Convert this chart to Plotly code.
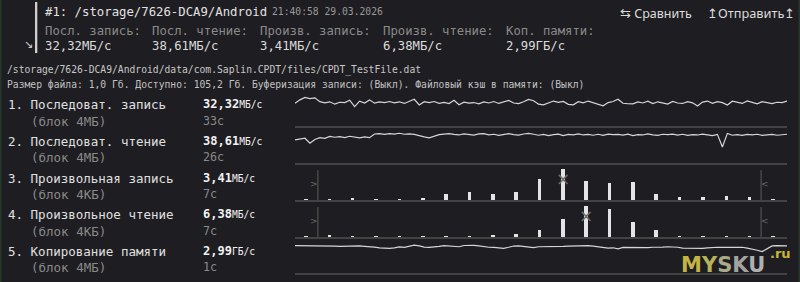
import plotly.graph_objects as go

W, H = 800, 282
BG = '#1e1d21'
MONO = 'DejaVu Sans Mono'
SANS = 'Noto Sans'

# ---------------- data ----------------
header_title = "#1: /storage/7626-DCA9/Android"
header_date = "21:40:58 29.03.2026"
summary_labels = ["Посл. запись:", "Посл. чтение:", "Произв. запись:", "Произв. чтение:", "Коп. памяти:"]
summary_values = ["32,32МБ/с", "38,61МБ/с", "3,41МБ/с", "6,38МБ/с", "2,99ГБ/с"]
file_path = "/storage/7626-DCA9/Android/data/com.Saplin.CPDT/files/CPDT_TestFile.dat"
file_info = "Размер файла: 1,0 Гб. Доступно: 105,2 Гб. Буферизация записи: (Выкл). Файловый кэш в памяти: (Выкл)"

test_names = ["1. Последоват. запись", "2. Последоват. чтение", "3. Произвольная запись",
              "4. Произвольное чтение", "5. Копирование памяти"]
block_sizes = ["(блок 4МБ)", "(блок 4МБ)", "(блок 4КБ)", "(блок 4КБ)", "(блок 4МБ)"]
speed_numbers = ["32,32", "38,61", "3,41", "6,38", "2,99"]
speed_units = ["МБ/с", "МБ/с", "МБ/с", "МБ/с", "ГБ/с"]
durations = ["33с", "26с", "7с", "7с", "1с"]

# sequential write, MB/s over time
seq_write = [30.6, 35.2, 38.4, 36.8, 38.0, 32.8, 31.2, 32.6, 29.4, 32.0,
             31.6, 34.8, 26.2, 33.4, 31.0, 35.2, 30.8, 32.4, 31.6, 33.0,
             31.2, 32.6, 30.4, 33.2, 36.0, 28.4, 32.8, 31.4, 33.0, 30.6,
             31.8, 30.2, 34.6, 28.6, 32.2, 30.8, 31.6, 29.8, 32.4, 31.0,
             33.0, 30.4, 32.2, 34.4, 31.0, 30.2, 32.6, 35.8, 34.0, 29.4,
             28.6, 30.8, 33.6, 31.8, 33.2, 29.2, 28.6, 32.8, 31.2, 33.6,
             31.4, 28.4, 27.2, 31.6, 33.0, 36.0, 30.6, 30.0, 29.8, 32.4,
             31.0, 33.4, 30.2, 32.6, 31.6, 29.6, 33.2, 31.0, 30.4, 32.8,
             31.2, 27.0, 32.2, 33.6, 30.6, 32.8, 31.4, 28.2, 33.4, 32.0,
             30.4, 33.8, 31.6, 29.8, 32.8, 31.2, 30.2, 32.0, 31.6, 33.6]

# sequential read, MB/s over time
seq_read = [32.4, 33.2, 34.8, 27.8, 33.0, 35.6, 34.6, 37.4, 36.2, 37.0,
            35.8, 37.6, 36.4, 35.2, 36.8, 35.6, 40.8, 41.2, 40.2, 41.4,
            40.6, 41.8, 40.4, 41.0, 40.2, 38.2, 36.8, 35.4, 37.6, 39.8,
            40.6, 41.4, 40.2, 39.4, 41.0, 40.4, 39.2, 40.8, 41.2, 39.6,
            40.4, 38.8, 40.6, 41.4, 40.0, 39.2, 40.8, 41.6, 40.4, 39.0,
            40.2, 38.6, 39.8, 40.6, 38.4, 40.2, 39.6, 40.8, 39.4, 40.2,
            39.0, 40.4, 38.8, 40.6, 39.8, 40.2, 39.2, 40.6, 38.6, 40.0,
            39.4, 40.8, 39.6, 38.8, 40.4, 39.8, 40.6, 39.2, 40.4, 38.8,
            40.0, 39.4, 40.6, 39.8, 38.6, 40.2, 22.6, 41.6, 39.0, 39.8,
            38.8, 40.2, 39.6, 40.4, 38.8, 39.6, 40.2, 39.0, 39.8, 40.4]

# memory copy, GB/s over time
mem_copy = [3.14, 3.14, 3.14, 3.15, 3.14, 3.14, 3.12, 3.08, 3.10, 3.06,
            3.09, 3.05, 3.08, 3.11, 3.06, 3.04, 2.98, 2.90, 2.85, 2.84,
            2.88, 3.00, 2.94, 3.06, 3.20, 3.12, 2.98, 2.94, 2.96, 3.06,
            3.14, 3.12, 3.04, 3.02, 3.16, 3.20, 3.18, 3.12, 3.00, 2.96,
            2.94, 2.88, 2.84, 2.96, 3.10, 3.12, 3.08, 2.98, 2.92, 3.02,
            3.02, 3.00, 3.04, 3.08, 3.06, 3.10, 3.12, 3.14, 3.13, 3.14,
            3.10, 3.02, 2.92, 2.86, 2.90, 2.78, 2.94, 2.92, 2.96, 2.90,
            2.94, 2.92, 2.96, 2.94, 2.98, 3.02, 3.00, 2.96, 2.86, 2.84,
            2.84, 2.86, 2.84, 2.88, 2.94, 2.96, 2.94, 2.98, 2.96, 2.94,
            2.96, 2.86, 2.76, 2.62, 2.46, 2.80, 3.12, 3.14, 3.12, 3.13]

# random write / read latency histograms, % of operations per bin
rand_write_hist = [0.6, 0.4, 0.8, 0.4, 0.4, 0.8, 3.9, 5.2, 3.6, 5.2, 12.9,
                   19.2, 11.9, 10.8, 11.3, 3.8, 1.9, 1.9, 2.5, 1.7, 0.6]
rand_read_hist = [0.6, 1.4, 0.4, 0.4, 0.4, 0.4, 0.6, 0.8, 1.9, 2.5, 5.8,
                  14.9, 25.6, 23.1, 12.4, 5.8, 0.8, 0.6, 0.6, 0.6, 0.6]
rand_write_minmax_bin = [0.51, 19.49]
rand_read_minmax_bin = [0.51, 19.49]
rand_write_avg_bin = 11
rand_read_avg_bin = 12

# ---------------- layout helpers ----------------
def px(x):
    return x / W

def py(y):
    return 1 - y / H

ann = []

def text(x, y, s, size, color, family=MONO, anchor='left'):
    ann.append(dict(x=px(x), y=py(y), xref='paper', yref='paper', text=s, showarrow=False,
                    xanchor=anchor, yanchor='middle', borderpad=0, borderwidth=0,
                    font=dict(family=family, size=size, color=color)))

GREY = '#8a8a8a'
LINE = '#d6d6d6'

# header
text(45, 12, header_title, 12.3, '#e2e2e2')
text(272, 11, header_date, 9.7, '#9a9a9a')
text(620, 13, "⇆ Сравнить", 12.5, '#dcdcdc', family=SANS)
text(707, 13, "↥Отправить↥", 12.8, '#dcdcdc', family=SANS)
text(24, 44, "↘", 11, '#cfcfcf', family='DejaVu Sans')
summary_x = [45, 152, 260, 383, 506]
for xx, lab, val in zip(summary_x, summary_labels, summary_values):
    text(xx, 31, lab, 12.25, GREY)
    text(xx, 46, val, 12.25, '#dcdcdc')

text(7, 70, file_path, 9.7, '#c8c8c8')
text(7, 84, file_info, 9.7, '#c2c2c2')

row_y = [104, 141, 178, 214, 251]
sub_y = [121, 157, 194, 231, 267]
for i in range(5):
    text(8, row_y[i], test_names[i], 12.5, '#e0e0e0')
    text(31, sub_y[i], block_sizes[i], 12.5, GREY)
    text(203, row_y[i], "<b>%s</b><span style='font-size:9.6px'>%s</span>" % (speed_numbers[i], speed_units[i]),
         12.0, '#f2f2f2')
    text(203, sub_y[i], durations[i], 11.7, GREY)

# watermark
ann.append(dict(x=px(681), y=py(265), xref='paper', yref='paper', showarrow=False,
                xanchor='left', yanchor='middle', borderpad=0, borderwidth=0,
                text="<b><span style='color:#c3b444'>M</span><span style='color:#b8b25a'>Y</span>"
                     "<span style='color:#aaa98a'>S</span><span style='color:#a2a2a0'>K</span>"
                     "<span style='color:#b0b0b0'>U</span></b>",
                font=dict(family='DejaVu Sans', size=21, color='#aaa')))
ann.append(dict(x=px(770), y=py(253), xref='paper', yref='paper', showarrow=False,
                xanchor='left', yanchor='middle', borderpad=0, borderwidth=0,
                text="<b>.ru</b>", font=dict(family='DejaVu Sans', size=13, color='#c9b63a')))

fig = go.Figure()

bands = [(90, 126), (126, 163), (163, 200), (200, 237), (237, 273)]
line_range_max = [48.5, 52.0, None, None, 4.14]
bar_range_max = {3: 23.1, 4: 30.55}

layout_axes = {}
for i, (t, b) in enumerate(bands, start=1):
    xk = 'xaxis' if i == 1 else 'xaxis%d' % i
    yk = 'yaxis' if i == 1 else 'yaxis%d' % i
    xa = dict(domain=[px(295), px(787)], anchor='y' if i == 1 else 'y%d' % i,
              showline=True, linecolor='#434343', linewidth=1.5, showgrid=False,
              zeroline=False, showticklabels=False, ticks='', fixedrange=True)
    ya = dict(domain=[py(b), py(t)], anchor='x' if i == 1 else 'x%d' % i, visible=False,
              fixedrange=True)
    if i in (3, 4):
        xa['range'] = [-0.471, 20.6]
        ya['range'] = [0, bar_range_max[i]]
    else:
        xa['range'] = [0, 99]
        ya['range'] = [0, line_range_max[i - 1]]
    layout_axes[xk] = xa
    layout_axes[yk] = ya

line_style = dict(color=LINE, width=1.2)
fig.add_trace(go.Scatter(y=seq_write, mode='lines', line=line_style, xaxis='x', yaxis='y',
                         hoverinfo='skip'))
fig.add_trace(go.Scatter(y=seq_read, mode='lines', line=line_style, xaxis='x2', yaxis='y2',
                         hoverinfo='skip'))
fig.add_trace(go.Bar(y=rand_write_hist, width=0.15, marker=dict(color='#e4e4e4', line=dict(width=0)),
                     xaxis='x3', yaxis='y3', hoverinfo='skip'))
fig.add_trace(go.Bar(y=rand_read_hist, width=0.15, marker=dict(color='#e4e4e4', line=dict(width=0)),
                     xaxis='x4', yaxis='y4', hoverinfo='skip'))
fig.add_trace(go.Scatter(y=mem_copy, mode='lines', line=line_style, xaxis='x5', yaxis='y5',
                         hoverinfo='skip'))

shapes = []
# header vertical bar
shapes.append(dict(type='rect', xref='paper', yref='paper', x0=px(35), x1=px(37.3), y0=py(53), y1=py(2),
                   fillcolor='#cfcfcf', line=dict(width=0)))
# frame edges
shapes.append(dict(type='rect', xref='paper', yref='paper', x0=0, x1=px(1.5), y0=0, y1=1,
                   fillcolor='#25392a', line=dict(width=0)))
shapes.append(dict(type='rect', xref='paper', yref='paper', x0=px(798.5), x1=1, y0=0, y1=1,
                   fillcolor='#25392a', line=dict(width=0)))

for ax, mm, avg in ((3, rand_write_minmax_bin, rand_write_avg_bin), (4, rand_read_minmax_bin, rand_read_avg_bin)):
    for k, xv in enumerate(mm):
        shapes.append(dict(type='line', xref='x%d' % ax, yref='y%d domain' % ax, x0=xv, x1=xv,
                           y0=0, y1=30 / 37, line=dict(color='#5c5c5c', width=1)))
        ann.append(dict(x=xv, y=16 / 37, xref='x%d' % ax, yref='y%d domain' % ax,
                        text='>' if k == 0 else '<', showarrow=False,
                        xanchor='right' if k == 0 else 'left', yanchor='middle',
                        xshift=0.5 if k == 0 else -0.5,
                        borderpad=0, borderwidth=0,
                        font=dict(family='DejaVu Sans', size=9, color='#6a6a6a')))
    ann.append(dict(x=avg, y=0.58, xref='x%d' % ax, yref='y%d domain' % ax, text='×',
                    showarrow=False, xanchor='center', yanchor='middle', borderpad=0, borderwidth=0,
                    font=dict(family='DejaVu Sans', size=17, color='#6c6c6c')))

fig.update_layout(width=W, height=H, margin=dict(l=0, r=0, t=0, b=0, pad=0),
                  paper_bgcolor=BG, plot_bgcolor=BG, showlegend=False,
                  annotations=ann, shapes=shapes, bargap=0, **layout_axes)

fig.write_html("out.html", config={'displayModeBar': False})
